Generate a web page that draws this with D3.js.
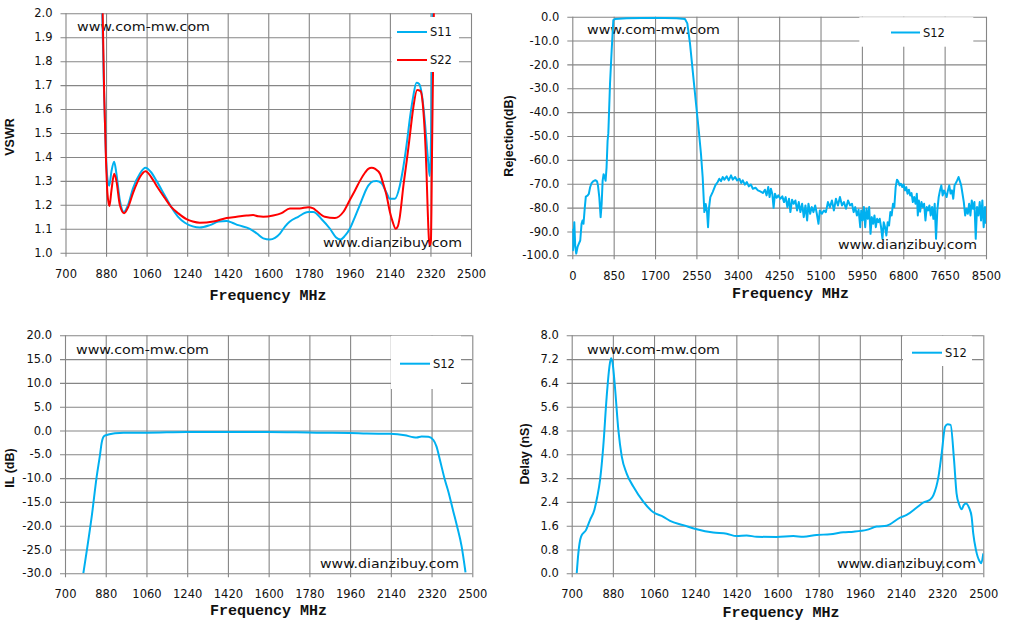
<!DOCTYPE html>
<html>
<head>
<meta charset="utf-8">
<script src="https://cdn.jsdelivr.net/npm/d3@7"></script>
<style>
  body { margin: 0; background: #fff; }
</style>
</head>
<body>
<svg id="chart" width="1010" height="626"></svg>
<script>
// ---- VSWR panel ----
var vswrXTicks = [700, 880, 1060, 1240, 1420, 1600, 1780, 1960, 2140, 2320, 2500];
var vswrYTicks = [1.0, 1.1, 1.2, 1.3, 1.4, 1.5, 1.6, 1.7, 1.8, 1.9, 2.0];
var s11Freq = [855, 863, 870, 879, 885, 894, 904, 916, 926, 941, 959, 978, 1000, 1030, 1055, 1081, 1104, 1140, 1170, 1200, 1230, 1265, 1296, 1341, 1380, 1415, 1440, 1467, 1518, 1550, 1578, 1607, 1630, 1652, 1675, 1696, 1733, 1777, 1800, 1837, 1874, 1900, 1921, 1940, 1962, 1985, 2007, 2044, 2065, 2081, 2103, 2125, 2140, 2162, 2184, 2200, 2214, 2230, 2243, 2258, 2270, 2282, 2295, 2310, 2317, 2323, 2329, 2333];
var s11Vswr = [2.15, 2.0, 1.71, 1.42, 1.32, 1.28, 1.34, 1.38, 1.33, 1.22, 1.17, 1.2, 1.27, 1.33, 1.355, 1.335, 1.3, 1.24, 1.19, 1.15, 1.125, 1.11, 1.105, 1.115, 1.13, 1.132, 1.125, 1.115, 1.1, 1.08, 1.06, 1.055, 1.062, 1.08, 1.11, 1.13, 1.15, 1.17, 1.17, 1.14, 1.1, 1.065, 1.055, 1.07, 1.1, 1.15, 1.2, 1.28, 1.298, 1.3, 1.29, 1.25, 1.225, 1.225, 1.28, 1.36, 1.45, 1.57, 1.65, 1.71, 1.705, 1.66, 1.55, 1.38, 1.32, 1.5, 2.0, 2.2];
var s22Freq = [857, 865, 872, 880, 886, 895, 904, 916, 926, 941, 960, 978, 1000, 1030, 1055, 1081, 1104, 1140, 1170, 1200, 1237, 1265, 1296, 1356, 1415, 1460, 1504, 1533, 1555, 1578, 1622, 1659, 1696, 1740, 1777, 1800, 1814, 1851, 1896, 1933, 1962, 1985, 2007, 2030, 2044, 2059, 2075, 2096, 2110, 2125, 2140, 2152, 2166, 2175, 2184, 2200, 2217, 2230, 2243, 2261, 2276, 2288, 2295, 2302, 2307, 2313, 2317, 2322, 2328, 2335, 2340];
var s22Vswr = [2.15, 2.0, 1.65, 1.38, 1.25, 1.195, 1.26, 1.33, 1.3, 1.2, 1.165, 1.19, 1.25, 1.315, 1.34, 1.315, 1.28, 1.23, 1.19, 1.165, 1.14, 1.13, 1.125, 1.13, 1.145, 1.15, 1.155, 1.157, 1.152, 1.15, 1.155, 1.165, 1.185, 1.185, 1.19, 1.185, 1.175, 1.15, 1.145, 1.17, 1.22, 1.26, 1.3, 1.335, 1.35, 1.355, 1.35, 1.33, 1.29, 1.24, 1.17, 1.13, 1.1, 1.11, 1.15, 1.28, 1.4, 1.5, 1.6, 1.68, 1.675, 1.6, 1.5, 1.35, 1.2, 1.06, 1.03, 1.05, 1.5, 2.0, 2.2];

// ---- Rejection panel ----
var rejXTicks = [0, 850, 1700, 2550, 3400, 4250, 5100, 5950, 6800, 7650, 8500];
var rejYTicks = [-100, -90, -80, -70, -60, -50, -40, -30, -20, -10, 0];
var rejFreq = [0, 14, 41, 61, 81, 108, 135, 163, 190, 210, 230, 257, 278, 312, 339, 366, 393, 427, 474, 508, 528, 555, 582, 603, 623, 643, 664, 684, 704, 725, 740, 775, 809, 843, 877, 1116, 1400, 1664, 1900, 2144, 2315, 2363, 2418, 2486, 2555, 2600, 2644, 2679, 2713, 2741, 2769, 2789, 2810, 2836, 2884, 2939, 2987, 3021, 3056, 3090, 3125, 3173, 3214, 3262, 3297, 3345, 3386, 3434, 3469, 3503, 3545, 3586, 3627, 3668, 3710, 3765, 3813, 3861, 3916, 3958, 3992, 4026, 4054, 4081, 4109, 4136, 4164, 4199, 4233, 4274, 4315, 4350, 4384, 4419, 4453, 4481, 4515, 4549, 4584, 4618, 4653, 4687, 4722, 4756, 4790, 4825, 4852, 4887, 4921, 4955, 4990, 5024, 5058, 5086, 5128, 5169, 5210, 5252, 5293, 5334, 5375, 5417, 5458, 5499, 5541, 5582, 5623, 5665, 5706, 5746, 5780, 5814, 5848, 5882, 5916, 5936, 5964, 5991, 6018, 6045, 6072, 6100, 6127, 6154, 6181, 6208, 6236, 6263, 6290, 6317, 6344, 6372, 6399, 6426, 6453, 6480, 6508, 6535, 6562, 6589, 6616, 6644, 6671, 6698, 6725, 6752, 6780, 6807, 6834, 6861, 6888, 6916, 6943, 6970, 6997, 7024, 7052, 7079, 7099, 7120, 7147, 7174, 7201, 7228, 7256, 7283, 7310, 7337, 7364, 7392, 7419, 7446, 7473, 7500, 7528, 7555, 7582, 7609, 7636, 7664, 7691, 7718, 7745, 7772, 7800, 7827, 7854, 7881, 7908, 7936, 7963, 7990, 8017, 8044, 8072, 8099, 8126, 8153, 8180, 8208, 8235, 8262, 8289, 8316, 8344, 8371, 8398, 8425, 8452, 8480, 8500];
var rejS12 = [-88.9, -97.9, -86.1, -96.5, -99.3, -96.5, -95.1, -93.8, -86.8, -85.4, -86.8, -79.9, -75.4, -75.0, -74.3, -71.5, -69.9, -69.0, -68.5, -69.0, -70.8, -75.7, -84.0, -78.5, -68.8, -66.0, -67.1, -68.8, -63.2, -52.0, -48.9, -28.0, -14.0, -1.4, -1.0, -0.7, -0.5, -0.4, -0.5, -0.6, -1.0, -2.8, -11.2, -25.1, -39.1, -48.0, -57.6, -67.4, -81.9, -78.5, -81.9, -88.2, -79.9, -75.6, -73.5, -70.7, -69.3, -67.9, -68.9, -67.2, -68.3, -66.9, -68.6, -66.5, -68.3, -67.2, -68.6, -67.9, -69.7, -68.6, -70.4, -69.3, -71.1, -70.3, -72.1, -71.7, -72.8, -73.2, -73.9, -72.5, -74.9, -71.4, -75.6, -72.1, -74.2, -80.1, -74.2, -75.9, -74.9, -76.3, -75.3, -77.7, -75.6, -79.8, -76.3, -81.9, -76.7, -78.4, -77.0, -81.2, -77.7, -81.9, -78.4, -84.0, -79.1, -85.4, -78.4, -82.6, -79.8, -81.9, -79.1, -82.6, -86.8, -81.2, -82.6, -81.2, -81.9, -77.7, -79.8, -77.0, -81.2, -76.3, -79.1, -75.6, -79.1, -77.7, -80.5, -77.0, -79.1, -78.4, -81.9, -79.8, -83.3, -80.9, -88.2, -81.2, -85.4, -79.8, -88.2, -80.5, -84.7, -79.8, -91.0, -84.0, -86.8, -83.3, -88.2, -84.7, -86.1, -84.7, -88.2, -93.1, -86.1, -88.2, -91.7, -86.1, -87.5, -81.9, -83.3, -78.4, -79.8, -71.4, -68.3, -69.1, -70.7, -70.0, -71.4, -70.3, -72.8, -71.4, -74.2, -72.5, -74.9, -73.9, -77.7, -75.6, -78.4, -74.2, -83.3, -77.0, -81.7, -77.7, -79.8, -78.4, -85.4, -79.8, -81.2, -79.1, -83.3, -79.8, -84.7, -78.4, -93.1, -81.2, -75.6, -72.8, -70.7, -74.9, -72.8, -74.1, -75.6, -72.8, -70.7, -74.1, -72.8, -76.3, -70.7, -69.7, -68.6, -67.2, -68.9, -70.7, -74.2, -77.7, -83.3, -80.5, -82.6, -78.4, -83.3, -77.0, -80.5, -77.7, -93.1, -79.8, -83.3, -77.7, -85.4, -77.0, -88.2, -79.8, -86.8];

// ---- Insertion loss panel ----
var ilXTicks = [700, 880, 1060, 1240, 1420, 1600, 1780, 1960, 2140, 2320, 2500];
var ilYTicks = [-30, -25, -20, -15, -10, -5, 0, 5, 10, 15, 20];
var ilFreq = [781, 799, 818, 840, 855, 862, 872, 884, 921, 958, 1061, 1238, 1444, 1591, 1812, 1959, 2033, 2136, 2202, 2240, 2254, 2276, 2306, 2328, 2342, 2357, 2379, 2394, 2416, 2431, 2453, 2470];
var ilS12 = [-30, -24.4, -18.1, -9.7, -5.0, -2.6, -1.2, -0.95, -0.6, -0.45, -0.45, -0.3, -0.3, -0.3, -0.45, -0.5, -0.65, -0.7, -1.0, -1.4, -1.45, -1.25, -1.3, -2.0, -3.4, -6.2, -10.4, -12.8, -17.0, -19.8, -24.4, -29.8];

// ---- Group delay panel ----
var delayXTicks = [700, 880, 1060, 1240, 1420, 1600, 1780, 1960, 2140, 2320, 2500];
var delayYTicks = [0, 0.8, 1.6, 2.4, 3.2, 4.0, 4.8, 5.6, 6.4, 7.2, 8.0];
var delayFreq = [722, 729, 741, 763, 780, 799, 812, 824, 838, 853, 865, 872, 879, 889, 904, 919, 940, 970, 1013, 1057, 1101, 1130, 1188, 1247, 1319, 1378, 1421, 1465, 1509, 1596, 1669, 1713, 1771, 1830, 1888, 1932, 1990, 2034, 2077, 2136, 2165, 2209, 2238, 2267, 2282, 2304, 2318, 2333, 2344, 2357, 2372, 2383, 2395, 2405, 2415, 2424, 2439, 2449, 2456, 2468, 2485, 2491, 2500];
var delayS12 = [0, 0.67, 1.23, 1.46, 1.79, 2.13, 2.58, 3.14, 4.26, 5.94, 6.95, 7.23, 7.06, 6.27, 4.82, 3.92, 3.36, 2.91, 2.41, 2.05, 1.9, 1.76, 1.62, 1.48, 1.37, 1.33, 1.25, 1.27, 1.23, 1.22, 1.25, 1.23, 1.29, 1.31, 1.38, 1.4, 1.46, 1.57, 1.6, 1.87, 1.96, 2.21, 2.38, 2.47, 2.63, 3.25, 4.03, 4.93, 5.01, 4.99, 3.81, 2.69, 2.3, 2.15, 2.3, 2.35, 2.18, 1.9, 1.34, 0.78, 0.39, 0.34, 0.67];

var BLUE = "#00b0f0", RED = "#ff0000", GRID = "#868686";
var SANS = "'DejaVu Sans', sans-serif";

var svg = d3.select("#chart");
svg.append("rect").attr("width", 1010).attr("height", 626).attr("fill", "#fff");

function fmt1(v) { return v.toFixed(1); }

function zip(xs, ys) { return xs.map(function(f, i) { return [f, ys[i]]; }); }

function drawPanel(p, idx) {
  var x = d3.scaleLinear().domain([p.xTicks[0], p.xTicks[p.xTicks.length - 1]]).range([p.x0, p.x1]);
  var y = d3.scaleLinear().domain([p.yTicks[0], p.yTicks[p.yTicks.length - 1]]).range([p.y1, p.y0]);
  var w = p.x1 - p.x0, h = p.y1 - p.y0;

  var yAxis = svg.append("g")
      .attr("transform", "translate(" + (p.x0 - 5) + ",0)")
      .call(d3.axisLeft(y).tickValues(p.yTicks).tickSize(-(w + 5)).tickPadding(8).tickFormat(fmt1));
  var xAxis = svg.append("g")
      .attr("transform", "translate(0," + (p.y1 + 4) + ")")
      .call(d3.axisBottom(x).tickValues(p.xTicks).tickSize(-(h + 4)).tickPadding(13).tickFormat(d3.format("d")));
  [yAxis, xAxis].forEach(function(g) {
    g.select(".domain").remove();
    g.attr("font-family", SANS).attr("font-size", 11.5);
    g.selectAll("line").attr("stroke", GRID).attr("stroke-width", 1.1);
    g.selectAll("text").attr("fill", "#111");
  });

  // watermarks
  svg.append("text").attr("x", p.wm1[0]).attr("y", p.wm1[1])
      .attr("font-family", SANS).attr("font-size", 13).attr("fill", "#111")
      .attr("textLength", 133).attr("lengthAdjust", "spacingAndGlyphs")
      .text("www.com-mw.com");

  svg.append("clipPath").attr("id", "clip" + idx)
    .append("rect").attr("x", p.x0).attr("y", p.y0).attr("width", w).attr("height", h);

  var line = d3.line()
      .x(function(d) { return x(d[0]); })
      .y(function(d) { return y(d[1]); })
      .curve(p.curve);

  var plot = svg.append("g").attr("clip-path", "url(#clip" + idx + ")");
  p.series.forEach(function(s) {
    plot.append("path")
        .datum(zip(s.freq, s.vals))
        .attr("fill", "none")
        .attr("stroke", s.color)
        .attr("stroke-width", 2)
        .attr("stroke-linejoin", "round")
        .attr("d", line);
  });

  svg.append("text").attr("x", p.wm2[0]).attr("y", p.wm2[1])
      .attr("font-family", SANS).attr("font-size", 13).attr("fill", "#111")
      .attr("textLength", 139).attr("lengthAdjust", "spacingAndGlyphs")
      .text("www.dianzibuy.com");

  // legend
  var lg = p.legend;
  svg.append("rect").attr("x", lg.box[0]).attr("y", lg.box[1])
      .attr("width", lg.box[2] - lg.box[0]).attr("height", lg.box[3] - lg.box[1])
      .attr("fill", "#fff");
  p.series.forEach(function(s, i) {
    var ly = lg.rows[i];
    svg.append("line").attr("x1", lg.line[0]).attr("x2", lg.line[1])
        .attr("y1", ly).attr("y2", ly)
        .attr("stroke", s.color).attr("stroke-width", 2);
    svg.append("text").attr("x", lg.line[1] + 3).attr("y", ly)
        .attr("dominant-baseline", "central")
        .attr("font-family", SANS).attr("font-size", 11.5).attr("fill", "#111")
        .text(s.name);
  });

  // axis titles
  svg.append("text")
      .attr("transform", "translate(" + p.yTitle[0] + "," + p.yTitle[1] + ") rotate(-90)")
      .attr("text-anchor", "middle").attr("dominant-baseline", "central")
      .attr("font-family", "'Liberation Sans', Arial, sans-serif").attr("font-weight", "bold")
      .attr("font-size", 12.5).attr("fill", "#111")
      .text(p.yLabel);
  svg.append("text")
      .attr("x", p.xTitle[0]).attr("y", p.xTitle[1])
      .attr("text-anchor", "middle").attr("dominant-baseline", "central")
      .attr("font-family", "'Liberation Mono', 'Courier New', monospace").attr("font-weight", "bold")
      .attr("font-size", 15).attr("fill", "#111")
      .text("Frequency MHz");
}

var panels = [
  { x0: 65.5, x1: 471, y0: 13.3, y1: 252.7, xTicks: vswrXTicks, yTicks: vswrYTicks,
    curve: d3.curveMonotoneX, yLabel: "VSWR", yTitle: [9.5, 137], xTitle: [268, 296],
    wm1: [77, 30.5], wm2: [323, 246.5],
    series: [ { name: "S11", color: BLUE, freq: s11Freq, vals: s11Vswr },
              { name: "S22", color: RED, freq: s22Freq, vals: s22Vswr } ],
    legend: { box: [391.5, 17, 459, 72], line: [397, 427], rows: [32, 60] } },
  { x0: 572.3, x1: 986, y0: 16.7, y1: 255.3, xTicks: rejXTicks, yTicks: rejYTicks,
    curve: d3.curveLinear, yLabel: "Rejection(dB)", yTitle: [508.5, 136], xTitle: [790.5, 294.5],
    wm1: [587, 33.5], wm2: [838, 249],
    series: [ { name: "S12", color: BLUE, freq: rejFreq, vals: rejS12 } ],
    legend: { box: [859.3, 17.2, 973.3, 46.7], line: [891, 920], rows: [32.5] } },
  { x0: 65, x1: 472.3, y0: 335.3, y1: 573.3, xTicks: ilXTicks, yTicks: ilYTicks,
    curve: d3.curveMonotoneX, yLabel: "IL (dB)", yTitle: [10, 468], xTitle: [268.5, 611.5],
    wm1: [76, 353.5], wm2: [320, 567.5],
    series: [ { name: "S12", color: BLUE, freq: ilFreq, vals: ilS12 } ],
    legend: { box: [391, 335.8, 461, 389], line: [400, 430], rows: [363.7] } },
  { x0: 571.7, x1: 983.3, y0: 335.3, y1: 573.3, xTicks: delayXTicks, yTicks: delayYTicks,
    curve: d3.curveMonotoneX, yLabel: "Delay (nS)", yTitle: [525, 454], xTitle: [781, 613],
    wm1: [587, 353.5], wm2: [837, 567.5],
    series: [ { name: "S12", color: BLUE, freq: delayFreq, vals: delayS12 } ],
    legend: { box: [903, 335.8, 972, 366], line: [912, 942], rows: [352.7] } }
];

panels.forEach(drawPanel);
</script>
</body>
</html>
